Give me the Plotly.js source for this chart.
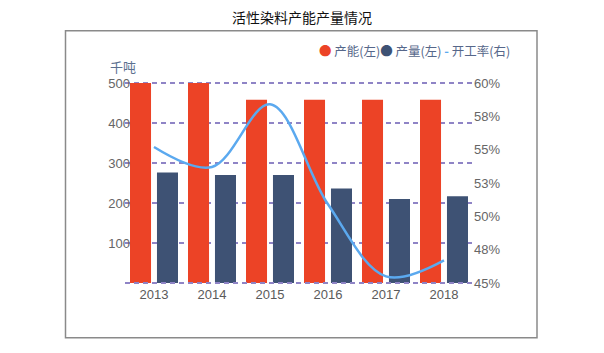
<!DOCTYPE html>
<html><head><meta charset="utf-8">
<script src="https://cdn.plot.ly/plotly-3.0.1.min.js"></script>
<style>html,body{margin:0;padding:0;background:#fff;}#chart{width:604px;height:353px;}</style>
</head><body><div id="chart"></div>
<script>
const years = ['2013','2014','2015','2016','2017','2018'];
const capacity = [500, 500, 458, 458, 458, 458];
const output = [276, 270, 270, 236, 210, 217];
const utilization = [0.552, 0.537, 0.584, 0.509, 0.455, 0.467];
const leftTicks = [0, 100, 200, 300, 400, 500];
const leftTickText = ['', '100', '200', '300', '400', '500'];
const rightTicks = [0.45, 0.475, 0.50, 0.525, 0.55, 0.575, 0.60];
const rightTickText = ['45%', '48%', '50%', '53%', '55%', '58%', '60%'];

const FONT = 'Liberation Sans, Noto Sans CJK SC, sans-serif';
const RED = '#ec4326', NAVY = '#3e5274', LINE = '#5ba9ef', GRID = '#8f84c6';

const traces = [
  {type:'bar', x:years, y:capacity, name:'产能(左)', marker:{color:RED}, showlegend:false},
  {type:'bar', x:years, y:output, name:'产量(左)', marker:{color:NAVY}, showlegend:false},
  {type:'scatter', mode:'lines', x:years, y:utilization, yaxis:'y2', name:'开工率(右)',
   line:{color:LINE, width:2.5, shape:'spline'}, showlegend:false}
];

const L = 125, R = 473, T = 83.3, B = 283.3;
const px = v => (v - L) / (R - L);
const py = v => (B - v) / (B - T);

const layout = {
  width:604, height:353,
  margin:{l:L, r:604-R, t:T-2, b:353-B-2, pad:0},
  paper_bgcolor:'#fff', plot_bgcolor:'#fff',
  font:{family:FONT, color:'#666', size:13},
  title:{text:'活性染料产能产量情况', font:{family:'Noto Sans CJK SC, sans-serif', size:14, color:'#111'},
         x:0.5, xanchor:'center', y:1-18/353, yanchor:'middle'},
  barmode:'group', bargap:0.07, bargroupgap:0.22,
  xaxis:{type:'category', range:[-0.5,5.5], showline:false, showgrid:false, zeroline:false,
         ticks:'', tickfont:{size:13, color:'#5a5a5a'}},
  yaxis:{range:[-5,505], tickvals:leftTicks, ticktext:leftTickText, showgrid:true,
         gridcolor:GRID, gridwidth:2, griddash:'5px,4px', zeroline:false, showline:false,
         ticks:'', ticklabelstandoff:-6, tickfont:{size:13, color:'#666'}},
  yaxis2:{range:[0.45-0.0015,0.60+0.0015], overlaying:'y', side:'right', tickvals:rightTicks, ticktext:rightTickText,
          showgrid:false, zeroline:false, showline:false, ticks:'', tickfont:{size:13, color:'#666'}},
  annotations:[
    {text:'千吨', xref:'paper', yref:'paper', x:px(123), y:py(69), showarrow:false,
     xanchor:'center', yanchor:'middle', font:{family:'Noto Sans CJK SC, sans-serif', size:13, color:'#5b6f8f'}},
    {text:'<span style="color:'+RED+'">●</span> 产能(左)<span style="color:'+NAVY+'">●</span> 产量(左) <span style="color:'+LINE+'"><b>-</b></span> 开工率(右)',
     xref:'paper', yref:'paper', x:px(414), y:py(53), showarrow:false, xanchor:'center', yanchor:'middle',
     font:{family:'Noto Sans CJK SC, sans-serif', size:12.5, color:'#56678a'}}
  ],
  shapes:[
    {type:'rect', xref:'paper', yref:'paper', x0:px(65.5), x1:px(537), y0:py(335), y1:py(34),
     line:{color:'#8a8a8a', width:1.5}, fillcolor:'rgba(0,0,0,0)', layer:'below'},
    {type:'line', xref:'paper', yref:'y', x0:0, x1:1, y0:0, y1:0,
     line:{color:GRID, width:2, dash:'5px,4px'}, layer:'above'}
  ]
};

Plotly.newPlot('chart', traces, layout, {displayModeBar:false, staticPlot:true});
</script></body></html>
